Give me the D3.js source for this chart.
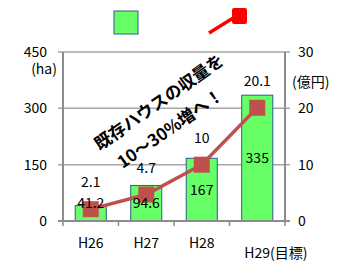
<!DOCTYPE html>
<html>
<head>
<meta charset="utf-8">
<script src="https://cdn.jsdelivr.net/npm/d3@7"></script>
<style>
  body { margin: 0; background: #fff; }
  text { font-family: "Noto Sans CJK JP", "Noto Sans", sans-serif; fill: #000; }
</style>
</head>
<body>
<div class="my_div"></div>
<script>
// Data
var years = ["H26", "H27", "H28", "H29"];
var yieldHa = [41.2, 94.6, 167, 335];      // bars, left axis (ha)
var salesOku = [2.1, 4.7, 10, 20.1];       // line, right axis (億円)
var leftTicks = [0, 150, 300, 450];
var rightTicks = [0, 10, 20, 30];

var width = 338,
    height = 264;

// plot box ("top" is taken by window.top, so use other names)
var plotL = 63, plotR = 285, plotT = 52, plotB = 221;

var x = d3.scaleBand()
    .domain(years)
    .range([plotL, plotR])
    .paddingInner(0.44)
    .paddingOuter(0.22);

var yL = d3.scaleLinear().domain([0, 450]).range([plotB, plotT]);
var yR = d3.scaleLinear().domain([0, 30]).range([plotB, plotT]);

var svg = d3.select(".my_div")
    .append("svg")
    .attr("width", width)
    .attr("height", height);

// Gridlines (they poke out a little on the left as ticks)
svg.append("g")
    .selectAll("line")
    .data(leftTicks)
    .enter()
    .append("line")
    .attr("x1", plotL - 5)
    .attr("x2", plotR + 5)
    .attr("y1", (d) => { return yL(d); })
    .attr("y2", (d) => { return yL(d); })
    .attr("stroke", "#a6a6a6")
    .attr("stroke-width", 1.5);

// Left axis labels
svg.append("g")
    .selectAll("text")
    .data(leftTicks)
    .enter()
    .append("text")
    .attr("x", 47)
    .attr("y", (d) => { return yL(d); })
    .attr("dy", "0.36em")
    .attr("text-anchor", "end")
    .attr("font-size", 14)
    .text((d) => { return d; });

svg.append("text")
    .attr("x", 57)
    .attr("y", 69)
    .attr("dy", "0.36em")
    .attr("text-anchor", "end")
    .attr("font-size", 14)
    .text("(ha)");

// Right axis labels
svg.append("g")
    .selectAll("text")
    .data(rightTicks)
    .enter()
    .append("text")
    .attr("x", 298)
    .attr("y", (d) => { return yR(d); })
    .attr("dy", "0.36em")
    .attr("font-size", 14)
    .text((d) => { return d; });

svg.append("text")
    .attr("x", 292)
    .attr("y", 82)
    .attr("dy", "0.36em")
    .attr("font-size", 14)
    .text("(億円)");

// Bars
svg.append("g")
    .selectAll("rect")
    .data(yieldHa)
    .enter()
    .append("rect")
    .attr("x", (d, i) => { return x(years[i]); })
    .attr("y", (d) => { return yL(d); })
    .attr("width", x.bandwidth())
    .attr("height", (d) => { return plotB - yL(d); })
    .attr("fill", "#66ff66")
    .attr("stroke", "#2f5a8f")
    .attr("stroke-width", 1);

// Axis frame
svg.append("line")
    .attr("x1", plotL).attr("x2", plotL)
    .attr("y1", plotT).attr("y2", plotB)
    .attr("stroke", "#8c8c8c").attr("stroke-width", 2);
svg.append("line")
    .attr("x1", plotR).attr("x2", plotR)
    .attr("y1", plotT).attr("y2", plotB)
    .attr("stroke", "#8c8c8c").attr("stroke-width", 2);
svg.append("line")
    .attr("x1", plotL - 5).attr("x2", plotR + 5)
    .attr("y1", plotB).attr("y2", plotB)
    .attr("stroke", "#8c8c8c").attr("stroke-width", 2);

// Category ticks at band edges
var edges = years.map((d) => { return x(d) - x.step() * x.paddingInner() / 2; });
edges.push(plotR);
svg.append("g")
    .selectAll("line")
    .data(edges)
    .enter()
    .append("line")
    .attr("x1", (d) => { return d; })
    .attr("x2", (d) => { return d; })
    .attr("y1", plotB)
    .attr("y2", plotB + 5)
    .attr("stroke", "#8c8c8c")
    .attr("stroke-width", 1.5);

// Category labels
svg.append("g")
    .selectAll("text")
    .data(years)
    .enter()
    .append("text")
    .attr("x", (d) => { return x(d) + x.bandwidth() / 2 - (d == "H29" ? 13 : 0); })
    .attr("y", (d) => { return d == "H29" ? 253 : 243; })
    .attr("dy", "0.36em")
    .attr("text-anchor", (d) => { return d == "H29" ? "start" : "middle"; })
    .attr("font-size", 14)
    .text((d) => { return d == "H29" ? "H29(目標)" : d; });

// Sales line
var line = d3.line()
    .x((d, i) => { return x(years[i]) + x.bandwidth() / 2; })
    .y((d) => { return yR(d); });

svg.append("path")
    .datum(salesOku)
    .attr("d", line)
    .attr("fill", "none")
    .attr("stroke", "#c0504d")
    .attr("stroke-width", 3.5);

svg.append("g")
    .selectAll("rect")
    .data(salesOku)
    .enter()
    .append("rect")
    .attr("x", (d, i) => { return x(years[i]) + x.bandwidth() / 2 - 8; })
    .attr("y", (d) => { return yR(d) - 8; })
    .attr("width", 16)
    .attr("height", 16)
    .attr("fill", "#c0504d");

svg.append("g")
    .selectAll("text")
    .data(salesOku)
    .enter()
    .append("text")
    .attr("x", (d, i) => { return x(years[i]) + x.bandwidth() / 2; })
    .attr("y", (d) => { return yR(d) - 27; })
    .attr("dy", "0.36em")
    .attr("text-anchor", "middle")
    .attr("font-size", 14)
    .text((d) => { return d; });

// Bar value labels sit on top of the line markers
svg.append("g")
    .selectAll("text")
    .data(yieldHa)
    .enter()
    .append("text")
    .attr("x", (d, i) => { return x(years[i]) + x.bandwidth() / 2; })
    .attr("y", (d) => { return Math.min((yL(d) + plotB) / 2, plotB - 18); })
    .attr("dy", "0.36em")
    .attr("text-anchor", "middle")
    .attr("font-size", 14)
    .text((d) => { return d; });

// Legend (no text in the original)
svg.append("rect")
    .attr("x", 114).attr("y", 11)
    .attr("width", 24).attr("height", 23)
    .attr("fill", "#66ff66")
    .attr("stroke", "#2f5a8f")
    .attr("stroke-width", 1);
svg.append("line")
    .attr("x1", 209).attr("y1", 33)
    .attr("x2", 238).attr("y2", 15)
    .attr("stroke", "#ff0000")
    .attr("stroke-width", 3.5);
svg.append("rect")
    .attr("x", 232).attr("y", 8)
    .attr("width", 15).attr("height", 16)
    .attr("rx", 2)
    .attr("fill", "#ff0000");

// Rotated annotation
var note = svg.append("g")
    .attr("transform", "translate(159,102) rotate(-35)");
note.append("text")
    .attr("text-anchor", "middle")
    .attr("dy", "0.36em")
    .attr("font-size", 17)
    .attr("font-weight", "bold")
    .text("既存ハウスの収量を");
note.append("text")
    .attr("x", -6)
    .attr("y", 28)
    .attr("text-anchor", "middle")
    .attr("dy", "0.36em")
    .attr("font-size", 17)
    .attr("font-weight", "bold")
    .text("10～30%増へ！");
</script>
</body>
</html>
